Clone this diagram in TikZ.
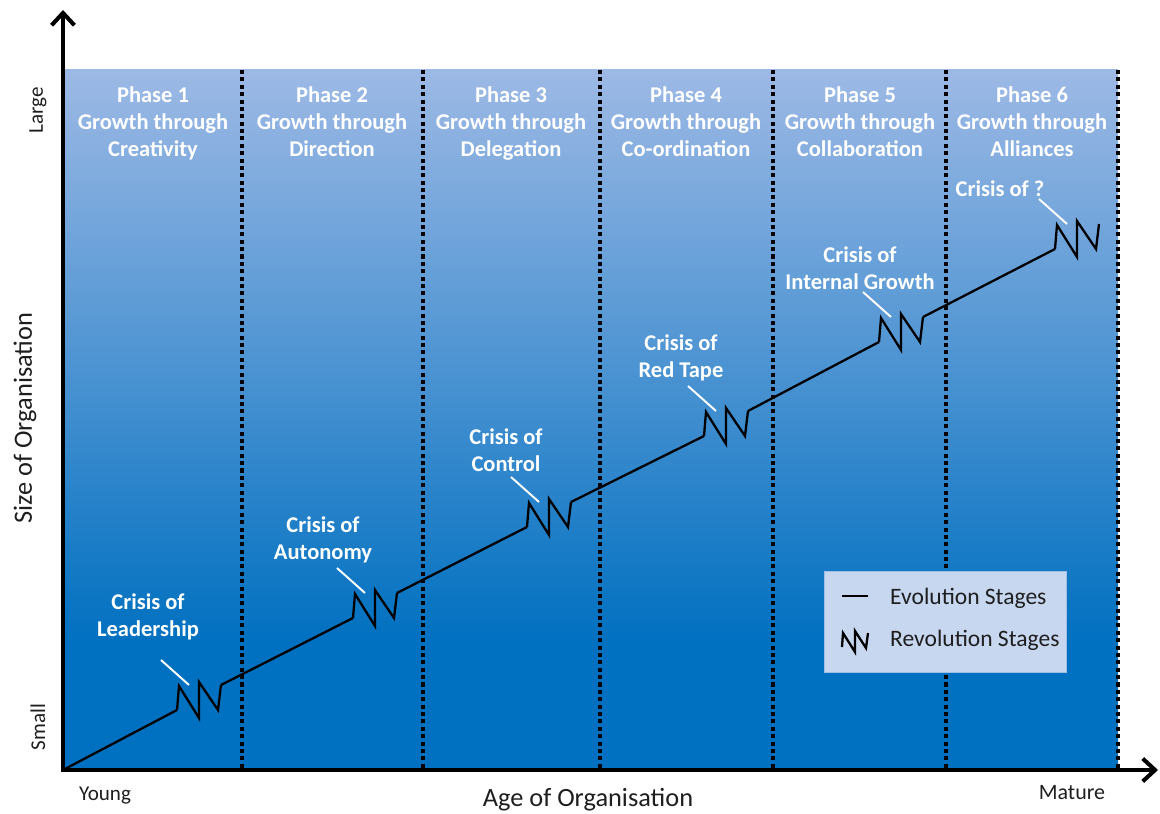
\documentclass[tikz,border=0pt]{standalone}
\usepackage{fontspec}
\setmainfont{Carlito}
\usetikzlibrary{positioning,arrows.meta}

\definecolor{phasetop}{RGB}{157,185,229}
\definecolor{phasebot}{RGB}{0,112,192}
\definecolor{legendfill}{RGB}{199,215,240}
\definecolor{legendline}{RGB}{160,190,230}
\definecolor{darktext}{RGB}{30,30,30}

\pgfdeclareverticalshading{phaseshade}{100bp}{color(0bp)=(phasebot); color(34bp)=(phasebot); color(75bp)=(phasetop); color(100bp)=(phasetop)}

\tikzset{
  phase/.style={text=white, anchor=north, font=\bfseries\fontsize{12.8}{15.3}\selectfont, align=center},
  crisis/.style={text=white, font=\bfseries\fontsize{12.8}{15.3}\selectfont, align=center},
  divider/.style={line width=2.4pt, dash pattern=on 2.3pt off 1.9pt},
  axis/.style={line width=2.3pt, line join=miter, {Straight Barb[length=7pt,width=13pt]}-{Straight Barb[length=7pt,width=13pt]}},
  trend/.style={line width=1.3pt, line join=miter},
  pointer/.style={white, line width=1.1pt},
  legendbox/.style={draw=legendline, fill=legendfill, minimum width=4.84cm, minimum height=2.02cm},
  legendtext/.style={text=darktext, anchor=west, font=\fontsize{13.4}{15}\selectfont},
  axislabel/.style={text=darktext, font=\fontsize{15}{17}\selectfont}
}

\begin{document}
\begin{tikzpicture}[x=0.02cm, y=-0.02cm]
  \useasboundingbox (0,0) rectangle (1160,814);

  % background of the phases
  \shade[shading=phaseshade] (65,70) rectangle (1118,770);
  \foreach \x in {242,423,600,773,946,1118}
    \draw[divider] (\x,70) -- (\x,770);

  \foreach \i/\x/\txt in {1/153/Creativity, 2/332/Direction, 3/511/Delegation,
                         4/686/Co-ordination, 5/860/Collaboration, 6/1032/Alliances}
    \node[phase] (phase\i) at (\x,81) {Phase \i\\Growth through\\\txt};

  % evolution and revolution
  \coordinate (origin) at (63,770);
  \foreach \i/\x/\y in {1/177/710, 2/353/618, 3/527/527, 4/704/436, 5/879/342, 6/1055/249} {
    \coordinate (z\i) at (\x,\y);
    \draw[trend] (z\i) -- ++(2,-24) -- ++(20,32) -- ++(0,-36) -- ++(19,28) -- ++(3,-25) coordinate (z\i-out);
    \draw[pointer] ([shift={(-16,-50)}]z\i) -- ([shift={(12,-25)}]z\i);
  }
  \draw[trend] (origin) -- (z1);
  \foreach \i [evaluate=\i as \j using int(\i+1)] in {1,...,5}
    \draw[trend] (z\i-out) -- (z\j);

  \node[crisis] (crisis1) at (148,617) {Crisis of\\Leadership};
  \node[crisis] (crisis2) at (323,540) {Crisis of\\Autonomy};
  \node[crisis] (crisis3) at (506,450) {Crisis of\\Control};
  \node[crisis] (crisis4) at (681,358) {Crisis of\\Red Tape};
  \node[crisis] (crisis5) at (860,268) {Crisis of\\Internal Growth};
  \node[crisis] (crisis6) at (1000,189) {Crisis of ?};

  % legend
  \node[legendbox] (legend) at (945,622) {};
  \node[legendtext] (evolution) at (884,598) {Evolution Stages};
  \node[legendtext] (revolution) at (884,640) {Revolution Stages};
  \draw[trend] (842,596) -- (868,596);
  \draw[trend] (842,647) -- ++(1,-14) -- ++(12,19) -- ++(0,-21) -- ++(11,17) -- ++(2,-15);

  % axes
  \draw[axis] (63,10) -- (origin) -- (1158,770);
  \node[axislabel, rotate=90] (large) at (38,110) {\fontsize{12}{14}\selectfont Large};
  \node[axislabel, rotate=90] (small) at (38,727) {\fontsize{12}{14}\selectfont Small};
  \node[axislabel, rotate=90] (size) at (25,418) {Size of Organisation};
  \node[axislabel] (young) at (105,796) {\fontsize{12}{14}\selectfont Young};
  \node[axislabel] (age) at (588,800) {Age of Organisation};
  \node[axislabel] (mature) at (1072,793) {\fontsize{12.5}{14}\selectfont Mature};
\end{tikzpicture}
\end{document}
